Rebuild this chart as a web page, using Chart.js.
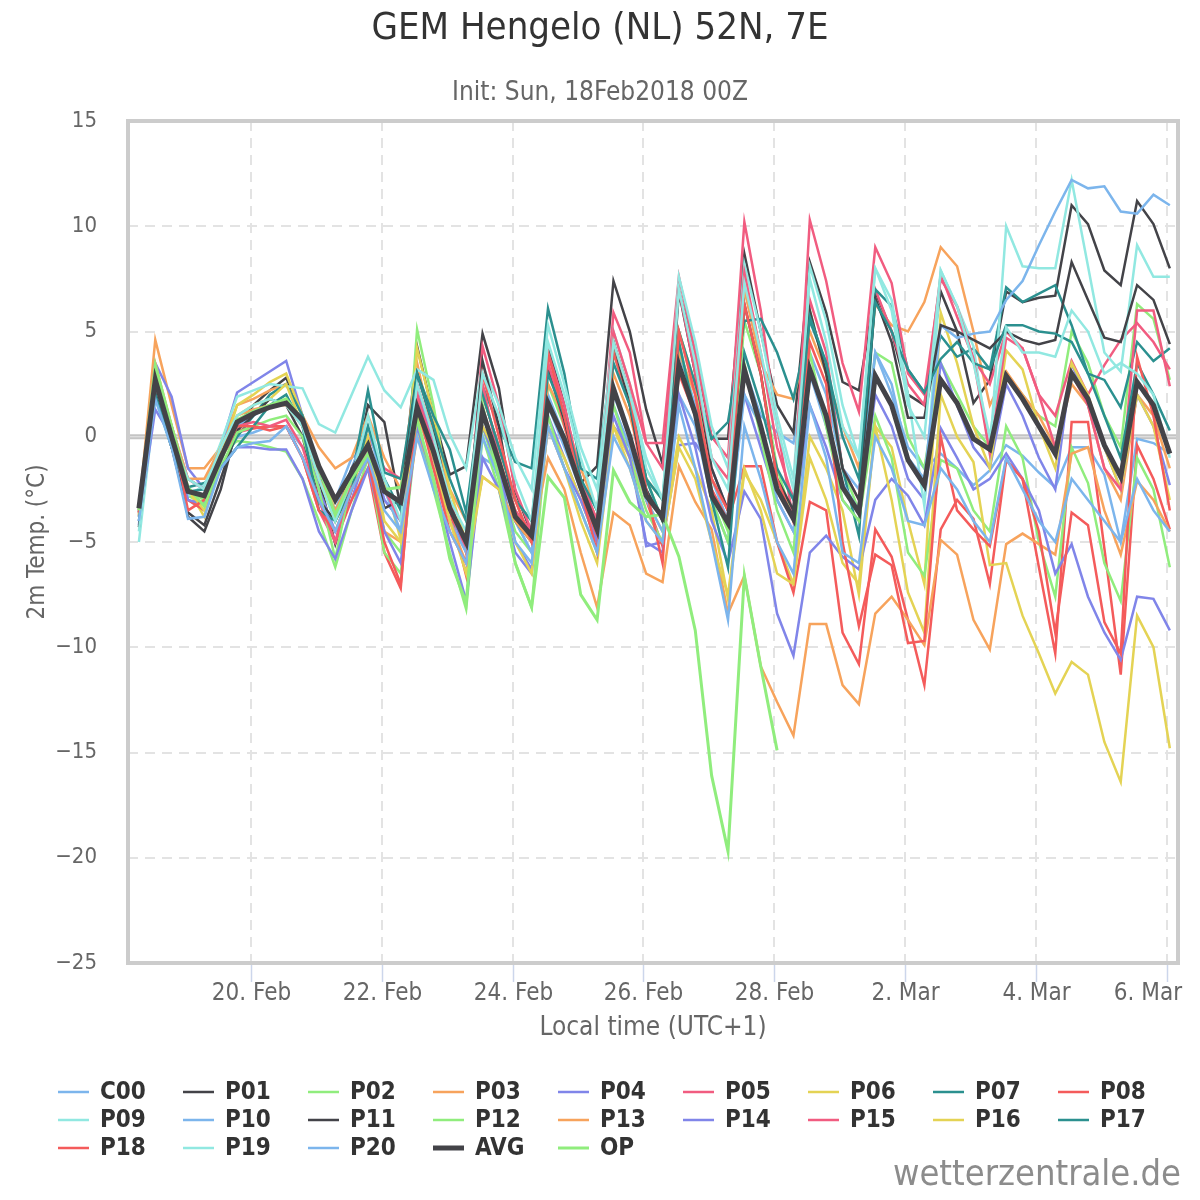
<!DOCTYPE html>
<html lang="de">
<head>
  <meta charset="UTF-8">
  <title>GEM Hengelo (NL) 52N, 7E</title>
  <style>
    html, body { margin: 0; padding: 0; background: #fff; }
    #wrap { width: 1200px; height: 1200px; }
    canvas { display: block; }
  </style>
</head>
<body>
  <div id="wrap"><canvas id="ens" width="1200" height="1200"></canvas></div>

  <script src="https://cdn.jsdelivr.net/npm/chart.js@4.4.1/dist/chart.umd.min.js"></script>
  <script>
    // forecast steps, hours after 18 Feb 00:00 local time (UTC+1), every 6 h
    const hoursLocal = [7,13,19,25,31,37,43,49,55,61,67,73,79,85,91,97,103,109,115,121,127,133,139,145,151,157,163,169,175,181,187,193,199,205,211,217,223,229,235,241,247,253,259,265,271,277,283,289,295,301,307,313,319,325,331,337,343,349,355,361,367,373,379,385];

    const tickHours = [48, 96, 144, 192, 240, 288, 336, 384];
    const tickLabels = ['20. Feb', '22. Feb', '24. Feb', '26. Feb', '28. Feb', '2. Mar', '4. Mar', '6. Mar'];

    // 2m temperature (°C) per member
    const C00 = [-3.8, 2.0,0.0,-3.0,-3.5, -1.5,0.0,0.2,0.5, 0.5,-0.5,-2.0,-3.0, -1.0,-0.5,-3.0,-4.0, 2.0,-0.5,-3.5,-5.0, -1.0,-1.5,-4.0,-5.5, 2.0,0.0,-2.5,-5.0, 2.0,0.0,-2.5,-4.0, 4.0,1.5,-2.0,-4.0, 3.3,1.0,0.2,-0.3, 4.0,2.0,-1.5,-2.5, 4.0,2.0,-0.5,-1.5, -0.8,-1.5,-2.3,-1.6, -0.4,-0.9,-1.7,-2.4, -0.5,-0.5,-1.8,-5.0, -0.1,-0.3,-0.8];
    const P01 = [-3.6, 2.5,0.2,-3.8,-4.5, -2.5,0.5,1.5,2.2, 2.8,1.0,-2.0,-5.1, -2.5,1.5,0.7,-3.4, 4.3,1.0,-1.8,-1.4, 4.9,2.3,-2.6,-4.6, 4.3,1.5,-2.2,-1.4, 7.4,5.0,1.3,-1.3, 6.9,4.0,-0.1,-0.1, 8.7,5.0,1.5,0.2, 8.3,5.9,2.6,2.2, 6.9,5.0,2.0,1.5, 6.9,5.0,1.6,2.7, 6.9,6.4,6.6,6.7, 11.0,10.1,7.9,7.2, 11.2,10.1,8.0];
    const P02 = [-3.8, 3.2,0.5,-2.8,-3.2, -0.8,-0.2,-0.3,-0.5, -0.7,-2.0,-4.0,-6.2, -3.5,-1.0,-4.5,-5.5, 5.1,1.5,-3.0,-5.5, 0.5,-2.0,-4.5,-5.5, 2.5,0.5,-2.0,-4.0, 4.0,1.5,-2.0,-4.0, 5.0,2.5,-2.5,-4.5, 5.5,3.0,-1.5,-4.0, 6.0,3.0,-1.5,-3.5, 4.0,3.5,0.0,-1.5, 3.5,2.0,0.5,-0.5, 3.0,2.0,1.0,0.5, 5.0,3.5,1.0,-0.5, 6.3,5.6,2.7];
    const P03 = [-3.5, 4.6,1.5,-1.5,-1.5, -0.5,1.5,1.8,2.2, 2.5,1.0,-0.5,-1.5, -1.0,1.0,-1.0,-2.5, 3.5,0.0,-2.5,-4.0, 2.0,-0.5,-3.0,-4.0, 2.5,1.0,-1.5,-3.5, 3.0,1.0,-2.0,-3.0, 4.0,2.0,-2.0,-3.5, 7.0,3.5,2.0,1.8, 5.0,3.0,0.5,-1.5, 6.3,5.3,5.0,6.4, 9.0,8.1,5.0,1.5, 3.1,2.0,1.0,-0.5, 2.5,1.5,-1.5,-3.0, 2.0,1.0,-1.5];
    const P04 = [-4.2, 3.5,1.9,-1.5,-2.5, -0.5,2.1,2.6,3.1, 3.6,1.0,-2.5,-4.5, -3.0,-0.5,-3.0,-4.0, 2.5,-0.5,-3.5,-5.5, 0.5,-1.5,-5.0,-6.3, 1.0,-1.0,-3.0,-5.0, 0.5,-0.5,-5.2,-5.0, -0.4,-0.3,-1.5,-3.5, 2.0,-0.5,-3.0,-4.5, 1.5,-0.5,-3.0,-4.0, 2.0,0.5,-2.0,-3.0, 3.5,1.5,-0.5,-1.5, 2.5,1.0,-1.0,-2.5, 3.5,1.5,-0.5,-2.5, 2.0,0.5,-2.3];
    const P05 = [-3.8, 2.0,-0.5,-2.5,-3.0, -1.0,0.2,0.4,0.5, 0.5,-1.0,-3.5,-5.0, -2.5,0.0,-1.5,-2.0, 2.5,0.0,-3.0,-5.5, 4.3,1.5,-2.5,-4.5, 4.0,1.5,-2.0,-4.0, 5.9,4.0,-0.3,-0.3, 7.6,4.0,0.0,-1.0, 10.2,6.0,0.5,-4.0, 6.5,4.0,-1.5,-3.0, 7.0,5.0,2.5,1.5, 7.7,5.7,3.7,2.5, 5.0,4.2,2.0,1.0, 3.6,2.0,3.4,4.6, 5.4,4.5,3.2];
    const P06 = [-3.5, 3.0,0.5,-2.5,-3.8, -1.0,1.5,2.0,2.6, 3.0,1.0,-1.5,-3.5, -2.0,0.5,-2.0,-4.9, 4.2,1.0,-2.5,-5.0, 0.5,-1.0,-3.5,-5.0, 0.5,-1.0,-3.0,-5.0, 0.5,-1.0,-3.0,-4.5, 0.0,-1.5,-3.5,-7.7, -1.7,-3.0,-5.0,-7.0, 0.0,-1.5,-3.5,-7.5, 0.5,-0.5,-4.0,-7.0, 5.9,3.5,0.5,-1.5, 4.1,3.2,0.5,-1.5, 3.5,2.0,-0.5,-2.5, 2.0,0.5,-3.0];
    const P07 = [-3.5, 2.5,-0.2,-2.4,-2.2, -1.5,0.0,1.0,2.0, 2.5,1.0,-1.5,-4.0, -2.0,2.2,-1.7,-2.0, 3.0,1.0,-0.6,-3.6, 2.4,0.5,-1.2,-1.5, 6.1,3.0,-1.5,-2.0, 4.5,2.0,-2.0,-4.0, 5.0,2.5,-0.1,0.7, 5.5,5.6,4.0,1.8, 5.5,3.5,-1.5,-4.7, 7.0,6.2,3.2,2.1, 4.8,3.8,4.2,3.2, 7.1,6.4,6.8,7.2, 5.3,3.0,2.7,1.4, 4.5,3.6,4.2];
    const P08 = [-3.3, 2.2,-0.5,-3.0,-3.5, -1.0,0.3,0.4,0.5, 0.5,-1.0,-3.0,-5.0, -3.0,-1.5,-5.5,-7.2, 2.0,-1.0,-3.5,-6.6, 2.0,-0.5,-3.0,-5.0, 3.5,0.5,-2.0,-5.0, 4.0,1.5,-3.0,-5.2, 3.0,1.0,-2.5,-4.0, -1.4,-1.4,-5.0,-7.4, -3.1,-3.5,-9.3,-10.8, -4.4,-5.7,-8.7,-11.8, -4.4,-3.0,-3.9,-7.0, -1.1,-2.0,-6.2,-10.3, 0.7,0.7,-5.3,-11.3, -0.4,-2.0,-4.4];
    const P09 = [-5.0, 1.8,-0.5,-2.8,-2.3, -0.3,1.9,2.2,2.5, 2.4,2.3,0.6,0.2, 2.0,3.8,2.2,1.4, 3.2,2.7,0.1,-1.5, 3.4,1.5,-1.0,-2.5, 5.3,2.5,-0.5,-2.5, 5.0,2.5,-1.5,-3.0, 7.6,4.5,0.5,-1.5, 8.2,5.0,1.0,-2.0, 8.1,5.5,1.5,-1.0, 8.0,6.5,2.0,-3.3, 7.9,6.2,4.3,-0.8, 10.0,8.1,8.0,8.0, 12.2,8.1,4.0,3.1, 9.1,7.6,7.6];
    const P10 = [-3.6, 2.3,0.5,-2.0,-2.5, -1.0,0.5,1.0,1.5, 1.5,0.5,-2.0,-3.5, -1.5,0.5,-2.5,-4.5, 1.0,-1.0,-4.0,-5.5, 1.0,-1.0,-4.0,-5.5, 1.5,-0.5,-2.5,-4.0, 1.5,-0.5,-3.0,-4.5, 2.0,0.5,-3.0,-5.0, 2.0,0.5,-3.0,-4.5, 3.0,0.5,-2.2,-3.5, 4.0,2.5,-1.0,-2.0, 5.3,4.7,4.9,5.0, 6.5,7.4,9.1,10.7, 12.2,11.8,11.9,10.7, 10.6,11.5,11.0];
    const P11 = [-4.3, 2.2,-0.5,-3.6,-4.2, -2.0,0.3,1.0,1.8, 1.5,0.0,-3.0,-4.0, -1.5,-0.2,-3.4,-3.0, 3.0,0.5,-3.5,-5.0, 3.6,0.5,-4.0,-5.0, 3.2,0.8,-2.5,-4.5, 4.5,1.5,-2.5,-4.0, 6.9,3.0,-1.5,-3.5, 6.3,3.0,-2.0,-3.5, 6.0,3.0,-1.5,-3.0, 6.6,4.5,0.9,0.9, 5.3,5.0,4.6,4.2, 5.0,4.6,4.4,4.6, 8.3,6.5,4.7,4.5, 7.2,6.5,4.4];
    const P12 = [-3.4, 2.8,0.2,-2.5,-3.0, -1.5,0.2,0.5,0.8, 1.0,0.0,-2.5,-5.8, -2.0,-1.0,-5.5,-6.5, 0.5,-2.5,-5.5,-8.2, 0.0,-2.5,-6.0,-8.1, 1.0,-1.5,-3.5,-5.5, 1.5,-1.0,-3.5,-5.0, 4.5,1.0,-3.0,-5.0, 3.5,0.0,-3.5,-5.5, 4.0,0.5,-3.0,-4.0, 1.0,-1.0,-5.5,-6.6, -1.1,-1.5,-3.5,-4.5, 0.5,-1.0,-5.0,-7.6, -0.5,-2.2,-6.0,-7.8, -1.0,-2.5,-6.2];
    const P13 = [-3.7, 3.5,0.5,-2.0,-2.0, -0.5,1.0,1.3,1.5, 1.5,0.5,-2.0,-3.5, -2.0,-0.5,-4.5,-5.0, 0.0,-1.5,-4.0,-6.0, -1.9,-2.5,-4.0,-5.0, -1.0,-2.5,-5.5,-8.1, -3.6,-4.2,-6.5,-6.9, -1.4,-3.1,-4.4,-8.4, -6.6,-10.9,-12.6,-14.2, -8.9,-8.9,-11.8,-12.7, -8.4,-7.6,-8.7,-9.9, -4.9,-5.6,-8.7,-10.1, -5.1,-4.6,-5.1,-5.6, -0.8,-0.5,-3.5,-5.6, -2.1,-3.0,-4.5];
    const P14 = [-4.0, 1.3,0.0,-3.0,-3.2, -1.5,-0.5,-0.5,-0.6, -0.6,-2.0,-4.5,-5.8, -3.5,-1.5,-4.5,-6.0, 0.5,-2.0,-5.0,-7.8, -1.0,-2.5,-5.5,-6.5, 0.5,-1.5,-3.0,-5.0, 1.0,-1.0,-5.0,-5.5, 2.0,-0.5,-4.0,-6.0, -2.6,-3.9,-8.4,-10.4, -5.5,-4.7,-5.7,-6.3, -3.0,-2.0,-2.8,-4.2, 0.4,-1.0,-2.5,-2.0, -0.8,-2.0,-3.5,-6.5, -5.1,-7.6,-9.3,-10.6, -7.6,-7.7,-9.2];
    const P15 = [-3.6, 2.5,0.0,-2.0,-2.5, -1.0,0.5,0.7,0.5, 0.8,-0.5,-3.0,-5.0, -2.0,-0.5,-2.5,-4.0, 2.0,-0.5,-3.5,-5.0, 2.5,-1.0,-3.5,-4.5, 3.5,1.0,-2.0,-4.0, 5.0,2.5,-0.3,-1.5, 7.0,3.0,-1.0,-2.0, 7.8,4.0,-0.5,-3.0, 10.3,7.4,3.5,1.2, 9.0,7.3,3.0,2.0, 7.5,6.2,3.7,-0.8, 4.7,4.2,2.0,-0.5, 3.0,1.5,-1.5,-2.5, 6.0,6.0,2.4];
    const P16 = [-3.7, 3.3,0.5,-2.5,-3.5, -0.5,1.0,1.5,1.8, 2.5,0.5,-2.0,-4.0, -2.5,0.0,-4.0,-5.0, 1.0,-1.0,-4.0,-6.5, -1.9,-2.5,-5.0,-6.5, 0.5,-1.5,-4.0,-6.0, 0.5,-1.5,-4.0,-5.0, -0.5,-2.0,-5.0,-7.5, -1.5,-3.5,-6.5,-7.0, -1.0,-3.0,-6.0,-7.0, 0.5,-3.0,-7.4,-9.3, 2.0,0.0,-1.2,-6.1, -6.0,-8.5,-10.3,-12.2, -10.7,-11.3,-14.5,-16.4, -8.5,-10.0,-14.8];
    const P17 = [-4.0, 2.0,-0.5,-2.6,-2.5, -1.5,-0.5,0.5,1.5, 2.0,0.5,-3.5,-4.0, -2.5,0.5,-2.0,-3.5, 3.0,0.5,-2.0,-4.0, 2.0,-0.5,-3.0,-4.0, 3.0,1.0,-2.0,-3.5, 3.5,1.5,-2.0,-3.0, 4.5,1.0,-3.0,-6.2, 4.0,1.5,-1.5,-3.0, 5.7,3.5,0.0,-2.0, 6.4,5.0,3.2,2.1, 3.7,4.5,3.5,3.2, 5.3,5.3,5.0,4.9, 4.5,3.0,1.0,-1.0, 3.5,2.0,0.3];
    const P18 = [-3.6, 2.8,0.5,-3.5,-3.0, -1.0,0.5,0.5,0.3, 0.5,-1.0,-3.5,-4.5, -2.5,-1.0,-5.0,-7.0, 1.5,-1.5,-4.5,-6.0, 3.0,0.0,-3.0,-5.0, 4.0,1.0,-2.5,-5.5, 4.5,2.0,-2.5,-6.0, 5.0,2.0,-2.0,-3.5, 6.3,3.0,-2.0,-4.0, 4.5,2.5,-5.0,-9.0, -5.6,-6.1,-9.8,-9.7, 0.0,-3.5,-4.4,-5.2, -1.1,-2.0,-4.5,-9.3, -3.6,-4.2,-8.8,-10.3, 3.8,1.0,-3.5];
    const P19 = [-4.5, 2.5,0.0,-2.0,-2.5, -0.5,1.0,1.5,1.8, 1.5,0.5,-2.0,-4.0, -2.0,1.0,-2.0,-4.0, 2.5,0.0,-3.0,-4.5, 3.0,1.0,-2.0,-4.0, 4.5,2.0,-1.0,-3.5, 4.5,2.0,-1.0,-3.0, 7.0,3.5,-1.0,-2.5, 7.3,4.0,0.5,-2.5, 7.5,4.5,0.5,-1.0, 8.0,6.0,1.5,0.0, 7.9,6.2,3.5,0.0, 5.2,4.0,4.0,3.8, 6.0,5.0,3.0,3.5, 3.0,2.0,-1.0];
    const P20 = [-4.0, 1.8,-0.5,-3.9,-3.8, -1.5,-0.5,-0.3,-0.2, 0.5,-1.0,-3.0,-4.5, -2.5,-1.0,-3.5,-4.5, 0.0,-2.5,-4.5,-6.0, 0.0,-2.0,-5.0,-6.0, 0.5,-1.5,-3.5,-5.5, 0.0,-1.5,-4.0,-5.0, 1.5,-1.5,-5.0,-8.7, 0.5,-2.0,-5.0,-6.5, 1.5,-1.0,-5.5,-6.0, 0.0,-1.5,-4.0,-4.2, -1.5,-2.5,-4.0,-5.0, -1.0,-2.5,-4.0,-5.0, -2.0,-3.0,-4.0,-5.0, -2.0,-3.5,-4.5];
    const AVG = [-3.4, 2.7,0.0,-2.6,-2.8, -1.0,0.7,1.1,1.4, 1.6,0.8,-1.4,-3.0, -1.7,-0.4,-2.6,-3.1, 1.4,-0.7,-3.4,-5.0, 1.2,-1.2,-3.8,-4.7, 1.6,-0.1,-2.4,-4.4, 2.3,0.0,-2.8,-3.8, 3.4,1.1,-2.8,-4.1, 3.2,0.5,-2.5,-3.9, 3.2,1.0,-2.4,-3.6, 2.9,1.5,-1.1,-2.3, 2.7,1.6,-0.1,-0.6, 2.9,1.8,0.5,-0.8, 3.0,1.8,-0.4,-1.9, 2.6,1.5,-0.8];
    // operational run only goes to 28 Feb
    const OP = [-3.5, 3.4,0.5,-2.4,-3.3, -1.2,0.8,1.2,1.5, 1.8,0.8,-1.5,-3.7, -2.0,-0.8,-2.5,-2.4, 0.8,-2.0,-5.8,-7.9, 1.5,-2.0,-6.0,-8.1, -1.9,-2.9,-7.5,-8.7, -1.6,-3.1,-3.8,-3.7, -5.7,-9.2,-16.1,-19.7, -6.6,-10.9,-14.9];

    const seriesNames = ['C00','P01','P02','P03','P04','P05','P06','P07','P08','P09','P10','P11','P12','P13','P14','P15','P16','P17','P18','P19','P20','AVG','OP'];
    const seriesValues = [C00,P01,P02,P03,P04,P05,P06,P07,P08,P09,P10,P11,P12,P13,P14,P15,P16,P17,P18,P19,P20,AVG,OP];
    const palette = ['#7cb5ec','#434348','#90ed7d','#f7a35c','#8085e9','#f15c80','#e4d354','#2b908f','#f45b5b','#91e8e1'];

    const FONT = '"DejaVu Sans Condensed", "DejaVu Sans", sans-serif';

    const datasets = seriesNames.map((name, k) => {
      const vals = seriesValues[k];
      let color = palette[k % 10];
      let width = 2.5;
      let order = 100 - k;
      if (name === 'AVG') { color = '#434348'; width = 5; order = 0; }
      if (name === 'OP') { color = '#90ed7d'; width = 3; order = 1; }
      return {
        label: name,
        data: vals.map((v, i) => ({ x: hoursLocal[i], y: v })),
        borderColor: color,
        backgroundColor: color,
        borderWidth: width,
        pointRadius: 0,
        tension: 0,
        fill: false,
        order: order
      };
    });

    // grid, zero line, frame, axis labels, titles, legend and watermark
    const decor = {
      id: 'decor',
      beforeDatasetsDraw(chart) {
        const { ctx, chartArea: a, scales: { x, y } } = chart;
        ctx.save();
        ctx.strokeStyle = '#e3e3e3';
        ctx.lineWidth = 2;
        ctx.setLineDash([10, 7]);
        for (let v = -20; v <= 10; v += 5) {
          const py = Math.round(y.getPixelForValue(v));
          ctx.beginPath(); ctx.moveTo(a.left, py); ctx.lineTo(a.right, py); ctx.stroke();
        }
        tickHours.forEach(h => {
          const px = Math.round(x.getPixelForValue(h));
          ctx.beginPath(); ctx.moveTo(px, a.top); ctx.lineTo(px, a.bottom); ctx.stroke();
        });
        ctx.setLineDash([]);
        const z = y.getPixelForValue(0);
        ctx.strokeStyle = '#c4c4c4';
        ctx.lineWidth = 5;
        ctx.beginPath(); ctx.moveTo(a.left, z); ctx.lineTo(a.right, z); ctx.stroke();
        ctx.strokeStyle = '#e6e6e6';
        ctx.lineWidth = 1;
        ctx.beginPath(); ctx.moveTo(a.left, z); ctx.lineTo(a.right, z); ctx.stroke();
        ctx.restore();
      },
      afterDraw(chart) {
        const { ctx, chartArea: a, scales: { x } } = chart;
        ctx.save();
        // frame
        ctx.strokeStyle = '#cccccc';
        ctx.lineWidth = 4;
        ctx.strokeRect(a.left, a.top, a.right - a.left, a.bottom - a.top);
        // x tick marks and labels (last label kept inside, like the original)
        ctx.strokeStyle = '#ccd6eb';
        ctx.lineWidth = 1.5;
        ctx.fillStyle = '#666666';
        ctx.font = '24px ' + FONT;
        ctx.textBaseline = 'middle';
        tickHours.forEach((h, i) => {
          const px = Math.round(x.getPixelForValue(h)) + 0.5;
          ctx.beginPath(); ctx.moveTo(px, a.bottom + 2); ctx.lineTo(px, a.bottom + 19); ctx.stroke();
          const w = ctx.measureText(tickLabels[i]).width;
          if (px + w / 2 > 1182) {
            ctx.textAlign = 'right';
            ctx.fillText(tickLabels[i], 1182, 994);
          } else {
            ctx.textAlign = 'center';
            ctx.fillText(tickLabels[i], px, 994);
          }
        });
        // titles
        ctx.textAlign = 'center';
        ctx.fillStyle = '#333333';
        ctx.font = '38px ' + FONT;
        ctx.fillText('GEM Hengelo (NL) 52N, 7E', 600, 29);
        ctx.fillStyle = '#666666';
        ctx.font = '26px ' + FONT;
        ctx.fillText('Init: Sun, 18Feb2018 00Z', 600, 93);
        ctx.fillText('Local time (UTC+1)', (a.left + a.right) / 2, 1028);
        ctx.save();
        ctx.translate(38, (a.top + a.bottom) / 2);
        ctx.rotate(-Math.PI / 2);
        ctx.font = '24px ' + FONT;
        ctx.fillText('2m Temp. (°C)', 0, 0);
        ctx.restore();
        // legend, 9 columns
        ctx.textAlign = 'left';
        chart.data.datasets.forEach((ds, k) => {
          const col = k % 9, row = Math.floor(k / 9);
          const x0 = 58 + col * 125, yy = 1092 + row * 28;
          ctx.strokeStyle = ds.borderColor;
          ctx.lineWidth = ds.label === 'AVG' ? 5 : (ds.label === 'OP' ? 3 : 2.5);
          ctx.beginPath(); ctx.moveTo(x0, yy); ctx.lineTo(x0 + 31, yy); ctx.stroke();
          ctx.fillStyle = '#333333';
          ctx.font = 'bold 24px ' + FONT;
          ctx.fillText(ds.label, x0 + 42, yy + 1);
        });
        // watermark
        ctx.textAlign = 'right';
        ctx.fillStyle = '#8c8c8c';
        ctx.font = '36px ' + FONT;
        ctx.fillText('wetterzentrale.de', 1181, 1176);
        ctx.restore();
      }
    };

    new Chart(document.getElementById('ens'), {
      type: 'line',
      data: { datasets },
      options: {
        responsive: false,
        devicePixelRatio: 1,
        animation: false,
        events: [],
        layout: { padding: { top: 121, right: 22, left: 0, bottom: 0 } },
        plugins: { legend: { display: false }, title: { display: false }, tooltip: { enabled: false } },
        scales: {
          x: {
            type: 'linear',
            min: 3,
            max: 388,
            afterBuildTicks: axis => { axis.ticks = tickHours.map(v => ({ value: v })); },
            afterFit: axis => { axis.height = 237; axis.paddingLeft = 0; axis.paddingRight = 0; },
            grid: { display: false, drawTicks: false },
            border: { display: false },
            ticks: { display: false }
          },
          y: {
            min: -25,
            max: 15,
            afterFit: axis => { axis.width = 128; axis.paddingTop = 0; axis.paddingBottom = 0; },
            grid: { display: false, drawTicks: false },
            border: { display: false },
            ticks: {
              stepSize: 5,
              padding: 31,
              color: '#666666',
              font: { family: FONT, size: 22 },
              callback: v => (v < 0 ? '\u2212' + Math.abs(v) : String(v))
            }
          }
        }
      },
      plugins: [decor]
    });
  </script>
</body>
</html>
